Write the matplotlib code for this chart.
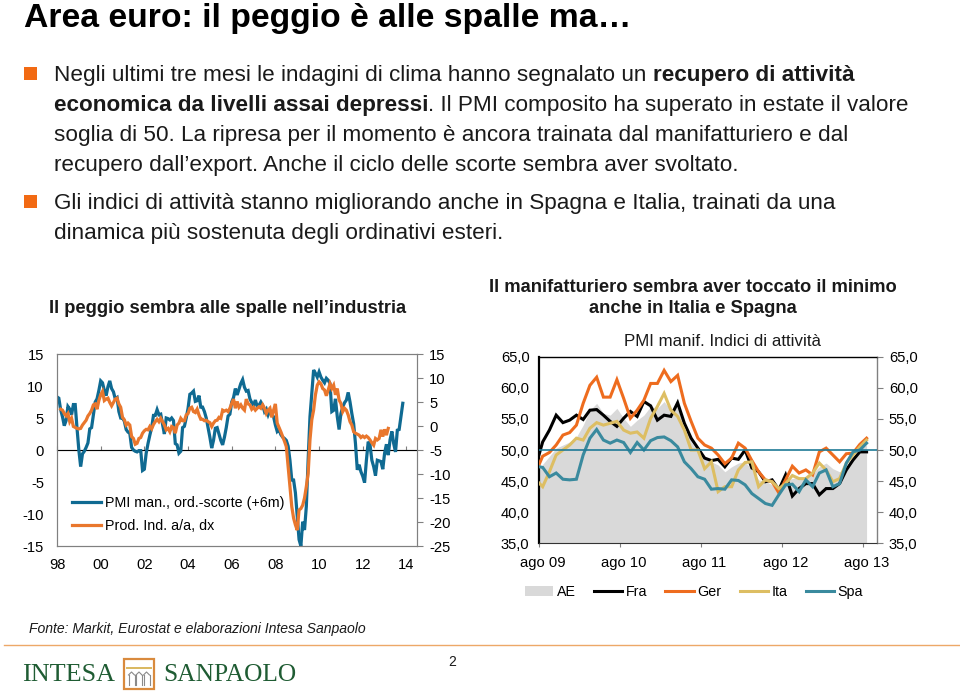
import numpy as np
import matplotlib
matplotlib.use("Agg")
import matplotlib.pyplot as plt
from matplotlib.lines import Line2D
from matplotlib.patches import Rectangle, Patch, Arc
from matplotlib.transforms import ScaledTranslation

plt.rcParams['font.family'] = ['Liberation Sans', 'DejaVu Sans']
plt.rcParams['axes.unicode_minus'] = False

# ---------- data: left chart (monthly, Jan 1998 onward) ----------
pmi_man = [8.3,8.1,6.3,5.2,3.8,4.6,6.8,6.4,5.5,7.1,7.1,3.4,
 0.0,-2.6,-0.6,-0.2,0.4,1.1,3.3,3.5,5.5,7.5,8.0,9.3,
 10.8,10.5,9.3,8.5,9.9,10.8,9.6,9.1,8.0,8.2,6.0,5.0,
 5.0,4.5,3.2,2.8,2.6,0.4,0.0,-0.2,-0.3,-0.1,-0.1,-3.2,
 -3.0,-0.5,1.0,2.3,3.5,5.4,5.4,6.3,5.5,5.6,4.0,2.5,
 5.0,4.9,4.7,5.0,4.6,1.0,0.8,-0.5,-0.2,3.5,3.7,5.0,
 6.5,8.7,8.9,9.2,7.6,7.7,8.5,6.7,6.7,6.0,5.0,3.5,
 2.0,0.3,1.5,3.4,3.5,2.5,1.5,0.8,2.0,3.5,5.3,5.6,
 7.5,8.2,9.6,8.6,9.5,10.4,11.0,9.8,9.2,9.3,8.0,7.4,
 7.0,7.8,6.8,7.0,7.5,7.0,6.0,6.4,5.5,6.2,5.5,5.2,
 3.9,2.9,3.2,2.4,2.0,1.8,1.5,0.6,-1.6,-4.7,-4.7,-6.7,
 -10.4,-14.0,-15.0,-11.2,-12.5,-8.8,-1.5,5.2,8.8,12.5,12.0,11.4,
 12.2,11.4,10.9,10.5,11.2,10.9,10.4,6.0,6.2,8.0,5.2,3.2,
 5.7,6.7,7.4,7.8,9.0,7.5,5.7,4.1,1.0,-3.1,-2.3,-3.4,
 -4.1,-5.1,-1.6,1.3,0.8,-1.6,-2.6,-4.0,-1.6,-1.7,-1.8,-3.0,
 -0.5,0.9,-0.8,1.6,2.9,1.0,-0.3,3.1,3.2,5.2,7.3]
prod_ind = [3.5,3.3,2.6,2.1,2.6,0.9,1.6,-0.1,-0.3,-0.5,
 -0.6,-0.5,0.2,0.7,1.2,2.1,2.6,3.3,4.4,4.6,3.5,5.3,
 6.5,7.2,5.3,5.6,5.8,4.9,4.2,4.9,5.6,5.8,4.6,3.9,
 1.8,1.3,0.2,0.6,0.2,-2.2,-2.6,-3.8,-3.6,-2.6,-2.4,-1.5,
 -1.0,-0.7,-0.8,-0.1,-0.6,0.3,0.9,1.4,0.9,1.6,0.9,0.2,
 -0.8,-0.5,-1.2,-0.1,-0.3,-1.5,0.2,0.6,1.6,1.1,1.1,2.3,
 2.6,3.7,3.9,3.0,2.8,3.5,2.3,1.4,1.4,1.1,1.2,0.9,
 0.7,-0.1,0.6,1.1,1.2,1.8,1.6,3.3,3.1,3.3,3.0,3.7,
 4.7,5.6,3.7,5.1,3.9,4.4,3.7,3.3,5.6,4.6,4.4,3.5,
 3.9,3.3,3.7,4.0,3.7,4.4,3.7,2.6,3.3,3.7,1.8,3.3,
 4.6,0.6,-0.3,-1.2,-2.2,-3.2,-4.3,-8.5,-12.6,-16.8,-19.2,-20.6,
 -21.7,-17.5,-17.2,-16.5,-15.0,-12.6,-9.9,-2.9,1.3,3.3,6.5,8.5,
 9.2,8.8,7.8,7.5,6.3,7.5,8.8,7.8,8.5,6.5,7.8,5.4,
 4.7,3.0,3.7,3.3,2.3,0.9,0.2,-1.2,-1.5,-1.7,-1.9,-2.4,
 -2.1,-2.4,-2.1,-2.4,-2.9,-3.5,-4.0,-2.6,-2.9,-2.6,-0.8,-2.2,
 -0.7,-1.9,-0.5]
left_ticks = ["98","00","02","04","06","08","10","12","14"]

# ---------- data: right chart (monthly, Jul 2009 onward) ----------
ae  = [46.0,47.7,49.0,50.3,50.8,51.3,52.1,54.0,56.4,57.5,55.9,55.6,56.7,55.1,53.8,54.8,55.6,57.0,56.7,57.8,56.4,57.8,
       53.8,51.3,49.7,48.7,48.1,47.6,46.5,47.3,47.9,48.1,46.8,45.2,45.0,44.4,43.0,45.2,45.4,45.7,45.4,46.3,47.3,47.9,
       47.0,46.5,47.3,48.7,50.3,50.8]
fra = [47.5,51.3,53.2,55.6,54.4,54.8,55.6,54.9,56.4,56.5,55.6,54.6,53.8,55.1,56.2,55.4,57.8,57.1,54.8,55.6,55.4,57.6,
       54.3,51.9,50.3,48.7,48.3,48.5,47.3,48.7,48.5,50.0,47.1,46.5,44.9,45.2,43.6,46.0,42.6,43.8,44.6,44.6,42.8,43.8,
       43.8,44.6,46.8,48.4,49.7,49.7]
ger = [46.5,49.0,49.6,50.8,52.4,52.8,54.0,57.5,60.4,61.7,58.5,58.5,61.3,58.3,55.1,56.4,58.0,60.7,60.7,62.8,61.0,62.0,
       57.5,54.6,51.9,50.8,50.3,49.2,47.8,48.7,51.1,50.3,48.3,46.5,45.2,44.9,43.1,45.2,47.4,46.3,46.8,46.0,49.7,50.3,
       49.2,48.1,49.4,49.5,50.9,51.9]
ita = [45.2,44.1,46.5,49.2,50.0,50.8,51.9,51.6,53.5,54.4,54.0,54.3,54.6,53.2,52.7,52.9,51.9,55.1,57.0,59.1,56.4,55.4,
       53.2,50.0,50.0,47.0,48.1,43.3,44.1,44.1,46.8,48.0,48.1,44.1,45.2,44.9,43.8,44.6,45.9,45.4,45.4,46.3,47.9,46.8,
       44.9,45.4,47.9,49.2,50.5,51.6]
spa = [47.4,47.2,45.7,46.3,45.3,45.2,45.3,49.2,51.9,53.3,51.6,51.1,51.6,51.2,49.6,51.2,50.0,51.5,52.0,52.1,51.5,50.5,
       48.1,47.0,45.7,45.3,43.7,43.8,43.7,45.2,45.1,44.4,43.0,42.2,41.4,41.1,42.8,44.4,44.5,43.3,45.2,44.1,46.3,46.8,
       44.1,44.6,47.9,49.7,50.0,51.1]
right_ticks = ["ago 09","ago 10","ago 11","ago 12","ago 13"]

W, H = 960, 694
fig = plt.figure(figsize=(W/100, H/100), dpi=100, facecolor='white')

def ax_px(x0, x1, ytop, ybot):
    return fig.add_axes([x0/W, 1-ybot/H, (x1-x0)/W, (ybot-ytop)/H])

def T(x, y, s, size, **kw):
    kw.setdefault('va', 'center')
    return fig.text(x/W, 1-y/H, s, fontsize=size, **kw)

def runs(x, y, parts, size, color='#1a1a1a'):
    r = fig.canvas.get_renderer()
    for s, w in parts:
        t = T(x, y, s, size, fontweight=w, color=color, va='baseline')
        x = t.get_window_extent(r).x1

BODY = 16.2
T(24, 19, "Area euro: il peggio è alle spalle ma…", 24.3, fontweight='bold', color='black')
for yb in (73, 201):
    fig.patches.append(Rectangle((24/W, 1-(yb+6.5)/H), 13/W, 13/H, transform=fig.transFigure,
                                 facecolor='#F26A13', edgecolor='none'))
runs(54, 81, [("Negli ultimi tre mesi le indagini di clima hanno segnalato un ", 'normal'),
              ("recupero di attività", 'bold')], BODY)
runs(54, 111, [("economica da livelli assai depressi", 'bold'),
               (". Il PMI composito ha superato in estate il valore", 'normal')], BODY)
runs(54, 141, [("soglia di 50. La ripresa per il momento è ancora trainata dal manifatturiero e dal", 'normal')], BODY)
runs(54, 171, [("recupero dall’export. Anche il ciclo delle scorte sembra aver svoltato.", 'normal')], BODY)
runs(54, 209, [("Gli indici di attività stanno migliorando anche in Spagna e Italia, trainati da una", 'normal')], BODY)
runs(54, 239, [("dinamica più sostenuta degli ordinativi esteri.", 'normal')], BODY)

T(228, 309, "Il peggio sembra alle spalle nell’industria", 13.2, fontweight='bold', ha='center', color='#1a1a1a')
T(693, 287, "Il manifatturiero sembra aver toccato il minimo", 13.2, fontweight='bold', ha='center', color='#1a1a1a')
T(693, 309, "anche in Italia e Spagna", 13.2, fontweight='bold', ha='center', color='#1a1a1a')

TICK = 10.6
GRAY = '#808080'
# ---------- left chart ----------
BLUE, ORANGE = '#0F6A92', '#E9772D'
ax = ax_px(57, 416.7, 354, 546)
x_b = 1998 + np.arange(len(pmi_man))/12
x_o = 1998 + (np.arange(len(prod_ind))+2)/12
ax.plot(x_b, pmi_man, color=BLUE, lw=2.3, solid_joinstyle='miter', label="PMI man., ord.-scorte (+6m)")
ax.set_xlim(1998, 2014.47); ax.set_ylim(-15, 15)
ax.set_yticks(range(-15, 16, 5))
ax.set_xticks(np.arange(1998, 2015, 2)); ax.set_xticklabels(left_ticks)
ax.tick_params(axis='y', length=0, pad=9.4, labelsize=TICK)
ax.tick_params(axis='x', length=0, pad=8.5, labelsize=TICK)
for s in ax.spines.values():
    s.set_color(GRAY); s.set_linewidth(0.8)
ax.axhline(0, color=GRAY, lw=0.8, zorder=0)
sec = ax.secondary_xaxis(0.5)
sec.set_xticks(np.arange(1998, 2015, 2)); sec.set_xticklabels([])
sec.tick_params(length=3, color=GRAY, width=0.8); sec.spines['bottom'].set_visible(False)
ax2 = ax.twinx()
ax2.plot(x_o, prod_ind, color=ORANGE, lw=2.3, solid_joinstyle='miter', label="Prod. Ind. a/a, dx")
ax2.set_ylim(-25, 15); ax2.set_yticks(range(-25, 16, 5))
ax2.tick_params(axis='y', length=4, color=GRAY, pad=5, labelsize=TICK, width=0.8)
for s in ax2.spines.values():
    s.set_color(GRAY); s.set_linewidth(0.8)
hs = ax.get_lines()[:1] + ax2.get_lines()
ax2.legend(hs, [h.get_label() for h in hs], loc='lower left', bbox_to_anchor=(0.043, 0.07), frameon=False,
           fontsize=10.3, handlelength=2.0, handletextpad=0.25, labelspacing=0.6, borderpad=0, borderaxespad=0)

# ---------- right chart ----------
C_AE, C_FRA, C_GER, C_ITA, C_SPA = '#D9D9D9', '#000000', '#EE6C1E', '#DDBE63', '#3A8A9E'
ar = ax_px(539.3, 876.7, 356.7, 543.3)
x_m = np.arange(len(ae)) - 0.5
ar.fill_between(x_m, ae, 35, color=C_AE, lw=0, zorder=1)
for d, c, n, z in ((fra, C_FRA, "Fra", 3), (ger, C_GER, "Ger", 4), (ita, C_ITA, "Ita", 5), (spa, C_SPA, "Spa", 6)):
    ar.plot(x_m, d, color=c, lw=2.2, label=n, zorder=z, solid_joinstyle='miter')
ar.axhline(50, color='#1F7A96', lw=1.2, zorder=7)
ar.set_xlim(0, 50); ar.set_ylim(35, 65)
ar.set_xticks(np.arange(0, 49, 12)); ar.set_xticklabels(right_ticks)
ar.set_yticks(range(35, 66, 5)); ar.set_yticklabels([f"{v},0" for v in range(35, 66, 5)])
ar.tick_params(axis='x', length=3, color=GRAY, pad=6, labelsize=TICK, width=0.8)
ar.tick_params(axis='y', length=0, pad=7, labelsize=TICK)
shift = ScaledTranslation(3/100, 0, fig.dpi_scale_trans)
for lab in ar.get_xticklabels():
    lab.set_transform(lab.get_transform() + shift)
ar.spines['left'].set_linewidth(1.6); ar.spines['left'].set_color('black')
ar.spines['top'].set_linewidth(1.0); ar.spines['top'].set_color('black')
ar.spines['bottom'].set_linewidth(0.8); ar.spines['bottom'].set_color('#333333')
ar.spines['right'].set_linewidth(1.0); ar.spines['right'].set_color(GRAY)
ar3 = ar.twinx()
ar3.set_ylim(35, 65); ar3.set_yticks(range(35, 66, 5)); ar3.set_yticklabels([f"{v},0" for v in range(35, 66, 5)])
ar3.tick_params(axis='y', length=4, color=GRAY, pad=4.7, labelsize=TICK, width=0.8)
for n in ('left', 'top', 'bottom', 'right'):
    ar3.spines[n].set_visible(False)
T(722.5, 341, "PMI manif. Indici di attività", 12.2, ha='center', color='#1a1a1a')
handles = [Patch(facecolor=C_AE, edgecolor='none', label="AE")] + [Line2D([], [], color=c, lw=2.2, label=n)
           for c, n in ((C_FRA, "Fra"), (C_GER, "Ger"), (C_ITA, "Ita"), (C_SPA, "Spa"))]
fig.legend(handles=handles, loc='center', bbox_to_anchor=(694/W, 1-592/H), ncol=5, frameon=False, fontsize=10.3,
           handlelength=2.0, handletextpad=0.25, columnspacing=1.25, borderpad=0, borderaxespad=0)

# ---------- footer ----------
T(29, 629.5, "Fonte: Markit, Eurostat e elaborazioni Intesa Sanpaolo", 10.05, fontstyle='italic', color='#1a1a1a')
fig.add_artist(Line2D([4/W, 1], [1-645/H, 1-645/H], transform=fig.transFigure, color='#EDA868', lw=1.0))
T(452, 662, "2", 10.0, ha='center', color='#1a1a1a')
GREEN = '#1F5C33'
T(22, 675, "INTESA", 18.8, family=['Liberation Serif'], color=GREEN)
T(163, 675, "SANPAOLO", 18.3, family=['Liberation Serif'], color=GREEN)
fig.add_artist(Rectangle((124/W, 1-688.5/H), 30/W, 30/H, transform=fig.transFigure, facecolor='white',
                         edgecolor='#D98A3D', lw=1.6))
fig.add_artist(Line2D([127/W, 151/W], [1-668/H, 1-668/H], transform=fig.transFigure, color='#D9B85F', lw=1.4))
for cx in (131.5, 139, 146.5):
    for dx in (-3, 3):
        fig.add_artist(Line2D([(cx+dx)/W]*2, [1-685/H, 1-675/H], transform=fig.transFigure, color='#8A8A8A', lw=0.8))
    fig.add_artist(Line2D([(cx-3)/W, cx/W, (cx+3)/W], [1-675/H, 1-672/H, 1-675/H], transform=fig.transFigure,
                          color='#8A8A8A', lw=0.8))
fig.savefig("out.png", dpi=100, facecolor='white')
